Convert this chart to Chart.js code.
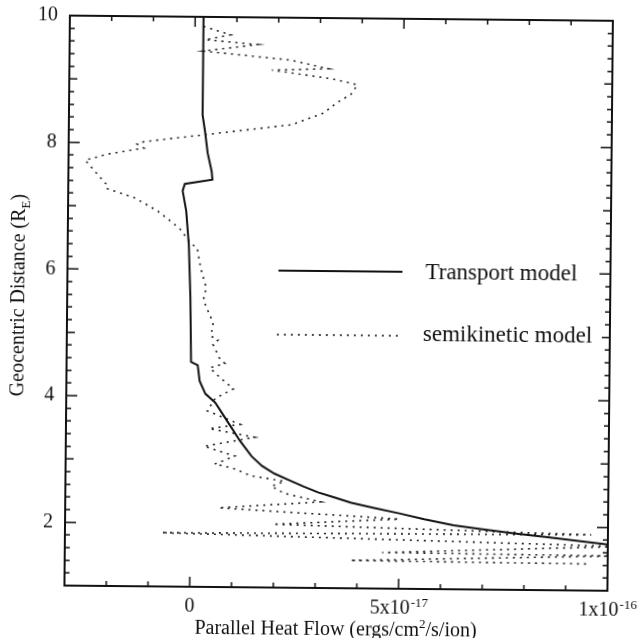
<!DOCTYPE html>
<html>
<head>
<meta charset="utf-8">
<script src="https://cdn.jsdelivr.net/npm/chart.js@4/dist/chart.umd.min.js"></script>
<style>
  html, body { margin: 0; padding: 0; background: #fff; overflow: hidden; }
  #chart { display: block; transform: rotate(0.55deg); }
</style>
</head>
<body>
<canvas id="chart" width="640" height="638"></canvas>
<script>
// heat flow in units of 1e-17 ergs/cm2/s/ion, distance in Earth radii
const transportX = [0.2, 0.2, 0.26, 0.33, 0.43, 0.45, -0.21, -0.26, -0.17, -0.1, -0.05, -0.02, 0.14, 0.19,
  0.33, 0.57, 0.81, 0.98, 1.17, 1.45, 1.7, 2.0, 2.35, 2.7, 3.05, 3.4, 3.85, 4.4, 5.0, 5.6, 6.3, 7.0,
  7.8, 8.5, 9.3, 10.0];
const transportY = [10, 8.45, 8.2, 7.85, 7.56, 7.43, 7.36, 7.25, 6.93, 6.4, 5.56, 4.55, 4.5, 4.25,
  4.05, 3.91, 3.67, 3.5, 3.31, 3.07, 2.92, 2.8, 2.7, 2.6, 2.51, 2.44, 2.35, 2.27, 2.19, 2.1, 2.01, 1.95,
  1.89, 1.84, 1.78, 1.73];

const semiX = [0.2, 0.85, 0.25, 1.5, 0.2, 2.3, 3.2, 1.85, 3.3, 3.9, 3.75, 3.4, 3.1, 2.33, 0.26, -0.1,
  -1.2, -1.36, -1.2, -2.05, -2.6, -2.1, -2.1, -1.4, -0.86, -0.33, -0.05, 0.1, 0.19, 0.33, 0.26, 0.38,
  0.5, 0.45, 0.62, 0.5, 0.67, 0.79, 0.43, 0.69, 1.0, 0.57, 0.38, 1.17, 0.43, 1.52, 0.31, 1.05, 0.57,
  1.0, 1.45, 2.24, 1.93, 2.24, 3.12, 0.67, 5.0, 1.98, 9.6, -0.69, 10.3, 4.6, 10.2, 3.83, 9.6];
const semiY = [9.85, 9.72, 9.64, 9.57, 9.46, 9.33, 9.2, 9.17, 9.04, 8.95, 8.8, 8.66, 8.5, 8.31, 8.14, 8.11,
  8.02, 7.98, 7.92, 7.82, 7.72, 7.35, 7.28, 7.13, 6.93, 6.66, 6.42, 6.35, 6.03, 5.72, 5.53, 5.35,
  5.17, 4.96, 4.9, 4.83, 4.6, 4.53, 4.46, 4.3, 4.13, 3.98, 3.78, 3.57, 3.5, 3.37, 3.22, 3.07, 2.94,
  2.88, 2.76, 2.68, 2.6, 2.49, 2.36, 2.25, 2.1, 2.0, 1.88, 1.85, 1.7, 1.57, 1.55, 1.44, 1.42];

const xMin = -3, xMax = 10;
const yMin = 1, yMax = 10;
const xTickValues = [0, 5, 10];
const xTickBase = ['0', '5x10', '1x10'];
const xTickExp = ['', '-17', '-16'];
const yTickLabels = [2, 4, 6, 8, 10];

const serif = "'Liberation Serif', 'DejaVu Serif', serif";
const ink = '#111';

function toPoints(xs, ys) {
  return xs.map((v, i) => ({ x: v, y: ys[i] }));
}

const framePlugin = {
  id: 'frame',
  afterDatasetsDraw(chart) {
    const ctx = chart.ctx;
    const a = chart.chartArea;
    const x = chart.scales.x, y = chart.scales.y;
    ctx.save();
    ctx.strokeStyle = ink;
    ctx.lineWidth = 2;
    ctx.strokeRect(a.left, a.top, a.right - a.left, a.bottom - a.top);

    // inward tick marks on all four sides
    ctx.lineWidth = 1.5;
    ctx.beginPath();
    for (let v = xMin; v <= xMax; v++) {
      const px = x.getPixelForValue(v);
      const len = v % 5 === 0 ? 10 : 5;
      ctx.moveTo(px, a.bottom); ctx.lineTo(px, a.bottom - len);
      ctx.moveTo(px, a.top); ctx.lineTo(px, a.top + len);
    }
    for (let i = 0; i <= (yMax - yMin) * 5; i++) {
      const v = yMin + i / 5;
      const py = y.getPixelForValue(v);
      let len = 5;
      if (i % 5 === 0) len = Math.round(v) % 2 === 0 ? 11 : 8;
      ctx.moveTo(a.left, py); ctx.lineTo(a.left + len, py);
      ctx.moveTo(a.right, py); ctx.lineTo(a.right - len, py);
    }
    ctx.stroke();

    ctx.fillStyle = ink;
    // x tick labels with exponents
    xTickValues.forEach((v, i) => {
      const px = x.getPixelForValue(v);
      ctx.font = '20px ' + serif;
      const w1 = ctx.measureText(xTickBase[i]).width;
      ctx.font = '13px ' + serif;
      const w2 = ctx.measureText(xTickExp[i]).width;
      const start = px - (w1 + w2) / 2;
      ctx.textBaseline = 'alphabetic';
      ctx.textAlign = 'left';
      ctx.font = '20px ' + serif;
      ctx.fillText(xTickBase[i], start, a.bottom + 25);
      ctx.font = '13px ' + serif;
      ctx.fillText(xTickExp[i], start + w1 + 1, a.bottom + 18);
    });

    // x axis title
    const t1 = 'Parallel Heat Flow (ergs/cm', t2 = '2', t3 = '/s/ion)';
    ctx.font = '20px ' + serif;
    const w1 = ctx.measureText(t1).width;
    const w3 = ctx.measureText(t3).width;
    ctx.font = '13px ' + serif;
    const w2 = ctx.measureText(t2).width;
    let sx = (a.left + a.right) / 2 - (w1 + w2 + w3) / 2;
    const by = a.bottom + 47;
    ctx.font = '20px ' + serif;
    ctx.fillText(t1, sx, by);
    ctx.font = '13px ' + serif;
    ctx.fillText(t2, sx + w1, by - 8);
    ctx.font = '20px ' + serif;
    ctx.fillText(t3, sx + w1 + w2, by);

    // y axis title
    const s1 = 'Geocentric Distance (R', s2 = 'E', s3 = ')';
    ctx.save();
    ctx.translate(24, 298);
    ctx.rotate(-Math.PI / 2);
    ctx.font = '20px ' + serif;
    const u1 = ctx.measureText(s1).width;
    const u3 = ctx.measureText(s3).width;
    ctx.font = '13px ' + serif;
    const u2 = ctx.measureText(s2).width;
    const ox = -(u1 + u2 + u3) / 2;
    ctx.font = '20px ' + serif;
    ctx.fillText(s1, ox, 0);
    ctx.font = '13px ' + serif;
    ctx.fillText(s2, ox + u1, 5);
    ctx.font = '20px ' + serif;
    ctx.fillText(s3, ox + u1 + u2, 0);
    ctx.restore();

    // legend
    ctx.lineWidth = 2;
    ctx.beginPath();
    ctx.moveTo(278, 271); ctx.lineTo(402, 271);
    ctx.stroke();
    ctx.lineWidth = 1.6;
    ctx.setLineDash([2, 5]);
    ctx.beginPath();
    ctx.moveTo(277, 335); ctx.lineTo(400, 335);
    ctx.stroke();
    ctx.setLineDash([]);
    ctx.font = '23px ' + serif;
    ctx.textBaseline = 'middle';
    ctx.fillText('Transport model', 425, 272);
    ctx.fillText('semikinetic model', 423, 334);
    ctx.restore();
  }
};

new Chart(document.getElementById('chart'), {
  type: 'scatter',
  data: {
    datasets: [
      {
        label: 'Transport model',
        data: toPoints(transportX, transportY),
        showLine: true,
        borderColor: ink,
        borderWidth: 2,
        pointRadius: 0,
        tension: 0
      },
      {
        label: 'semikinetic model',
        data: toPoints(semiX, semiY),
        showLine: true,
        borderColor: '#222',
        borderWidth: 1.6,
        borderDash: [2, 5],
        pointRadius: 0,
        tension: 0
      }
    ]
  },
  options: {
    responsive: false,
    animation: false,
    layout: { padding: { top: 18, right: 30, left: 0, bottom: 0 } },
    plugins: { legend: { display: false }, tooltip: { enabled: false } },
    scales: {
      x: {
        type: 'linear',
        min: xMin,
        max: xMax,
        grid: { display: false },
        border: { display: false },
        ticks: { display: false },
        afterFit(scale) { scale.height = 50; }
      },
      y: {
        type: 'linear',
        min: yMin,
        max: yMax,
        grid: { display: false },
        border: { display: false },
        ticks: {
          stepSize: 2,
          autoSkip: false,
          padding: 4,
          color: ink,
          font: { family: serif, size: 20 },
          callback: v => yTickLabels.includes(v) ? String(v) : ''
        },
        afterFit(scale) { scale.width = 67; }
      }
    }
  },
  plugins: [framePlugin]
});
</script>
</body>
</html>
